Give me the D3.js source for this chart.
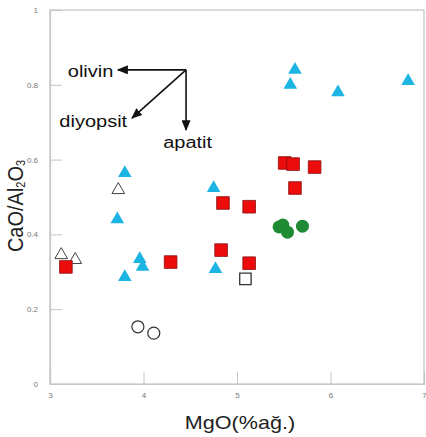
<!DOCTYPE html>
<html>
<head>
<meta charset="utf-8">
<script src="https://cdn.jsdelivr.net/npm/d3@7"></script>
<style>
  body { margin: 0; background: #fff; }
  svg { display: block; font-family: "Liberation Sans", Arial, sans-serif; }
</style>
</head>
<body>
<svg id="chart" width="426" height="437"></svg>
<script>
// MgO (%) vs CaO/Al2O3 values
const cyanTriangles = [
  [5.62, 0.84], [5.57, 0.80], [6.08, 0.78], [6.83, 0.81],
  [3.80, 0.564], [4.75, 0.524], [3.72, 0.44], [3.96, 0.334],
  [3.99, 0.313], [3.80, 0.286], [4.77, 0.307]
];
const redSquares = [
  [5.51, 0.591], [5.60, 0.588], [5.83, 0.58], [5.62, 0.524],
  [4.85, 0.484], [5.13, 0.474], [4.83, 0.358], [5.13, 0.323],
  [3.17, 0.313], [4.29, 0.326]
];
const greenCircles = [[5.45, 0.42], [5.49, 0.425], [5.54, 0.406], [5.70, 0.422]];
const openSquares = [[5.09, 0.281]];
const openCircles = [[3.94, 0.153], [4.11, 0.136]];
const openTriangles = [[3.73, 0.519], [3.12, 0.345], [3.27, 0.332]];

const xTicks = [3, 4, 5, 6, 7];
const yTicks = [0, 0.2, 0.4, 0.6, 0.8, 1];

// arrows: from a common origin towards each mineral
const arrowOrigin = [4.455, 0.84];
const arrows = [
  { name: "olivin", end: [3.727, 0.84], label: [3.19, 0.82] },
  { name: "diyopsit", end: [3.877, 0.711], label: [3.10, 0.687] },
  { name: "apatit", end: [4.455, 0.679], label: [4.21, 0.631] }
];

const svg = d3.select("#chart");
const margin = { top: 10, right: 2, bottom: 53, left: 50 };
const width = 426 - margin.left - margin.right,
      height = 437 - margin.top - margin.bottom;

const g = svg.append("g").attr("transform", `translate(${margin.left},${margin.top})`);

const x = d3.scaleLinear().domain([3, 7]).range([0, width]);
const y = d3.scaleLinear().domain([0, 1]).range([height, 0]);

// frame
g.append("rect")
  .attr("width", width).attr("height", height)
  .attr("fill", "none").attr("stroke", "#c4c4c4").attr("stroke-width", 1.2);

// axes with inward ticks
const xAxis = g.append("g")
  .attr("transform", `translate(0,${height})`)
  .call(d3.axisBottom(x).tickValues(xTicks).tickSize(-12).tickPadding(8).tickFormat(d3.format("d")));
const yAxis = g.append("g")
  .call(d3.axisLeft(y).tickValues(yTicks).tickSize(-12).tickPadding(12).tickFormat(d => d === 0 || d === 1 ? d : d.toFixed(1)));

[xAxis, yAxis].forEach(a => {
  a.select(".domain").attr("stroke", "#c4c4c4").attr("stroke-width", 1.2);
  a.selectAll(".tick line").attr("stroke", "#c4c4c4");
  a.selectAll(".tick text").attr("fill", "#777").attr("font-size", 8);
});

// axis titles
svg.append("text")
  .attr("transform", `translate(240,429) scale(1.2,1)`)
  .attr("text-anchor", "middle").attr("font-size", 18).attr("fill", "#222")
  .text("MgO(%ağ.)");

const yTitle = svg.append("text")
  .attr("transform", "translate(23,206) rotate(-90) scale(1,1.12)")
  .attr("text-anchor", "middle").attr("font-size", 20).attr("fill", "#222");
yTitle.append("tspan").text("CaO/Al");
yTitle.append("tspan").attr("font-size", 11).attr("dy", 2).text("2");
yTitle.append("tspan").attr("dy", -2).text("O");
yTitle.append("tspan").attr("font-size", 11).attr("dy", 2).text("3");

// arrow annotations
svg.append("defs").append("marker")
  .attr("id", "head").attr("viewBox", "0 0 10 10")
  .attr("refX", 9).attr("refY", 5)
  .attr("markerWidth", 11).attr("markerHeight", 9)
  .attr("markerUnits", "userSpaceOnUse")
  .attr("orient", "auto")
  .attr("preserveAspectRatio", "none")
  .append("path").attr("d", "M0,0 L10,5 L0,10 Z").attr("fill", "#111");

g.selectAll(".arrow")
  .data(arrows)
  .enter().append("line")
  .attr("x1", x(arrowOrigin[0])).attr("y1", y(arrowOrigin[1]))
  .attr("x2", d => x(d.end[0])).attr("y2", d => y(d.end[1]))
  .attr("stroke", "#111").attr("stroke-width", 1.6)
  .attr("marker-end", "url(#head)");

g.selectAll(".arrow-label")
  .data(arrows)
  .enter().append("text")
  .attr("transform", d => `translate(${x(d.label[0])},${y(d.label[1])}) scale(1.25,1)`)
  .attr("font-size", 16).attr("fill", "#111")
  .text(d => d.name);

// points
const sym = (type, size) => d3.symbol().type(type).size(size)();

g.selectAll(".open-tri")
  .data(openTriangles)
  .enter().append("path")
  .attr("d", sym(d3.symbolTriangle, 70))
  .attr("transform", d => `translate(${x(d[0])},${y(d[1])})`)
  .attr("fill", "none").attr("stroke", "#444").attr("stroke-width", 1);

g.selectAll(".cyan")
  .data(cyanTriangles)
  .enter().append("path")
  .attr("d", sym(d3.symbolTriangle, 80))
  .attr("transform", d => `translate(${x(d[0])},${y(d[1])})`)
  .attr("fill", "#1cb4e2");

g.selectAll(".red")
  .data(redSquares)
  .enter().append("path")
  .attr("d", sym(d3.symbolSquare, 160))
  .attr("transform", d => `translate(${x(d[0])},${y(d[1])})`)
  .attr("fill", "#ec0c0c").attr("stroke", "#8a1010").attr("stroke-width", 0.8);

g.selectAll(".green")
  .data(greenCircles)
  .enter().append("circle")
  .attr("cx", d => x(d[0])).attr("cy", d => y(d[1]))
  .attr("r", 6.5)
  .attr("fill", "#1f8b34");

g.selectAll(".open-sq")
  .data(openSquares)
  .enter().append("path")
  .attr("d", sym(d3.symbolSquare, 130))
  .attr("transform", d => `translate(${x(d[0])},${y(d[1])})`)
  .attr("fill", "#fff").attr("stroke", "#333").attr("stroke-width", 1.3);

g.selectAll(".open-circ")
  .data(openCircles)
  .enter().append("circle")
  .attr("cx", d => x(d[0])).attr("cy", d => y(d[1]))
  .attr("r", 6)
  .attr("fill", "none").attr("stroke", "#333").attr("stroke-width", 1.2);
</script>
</body>
</html>
